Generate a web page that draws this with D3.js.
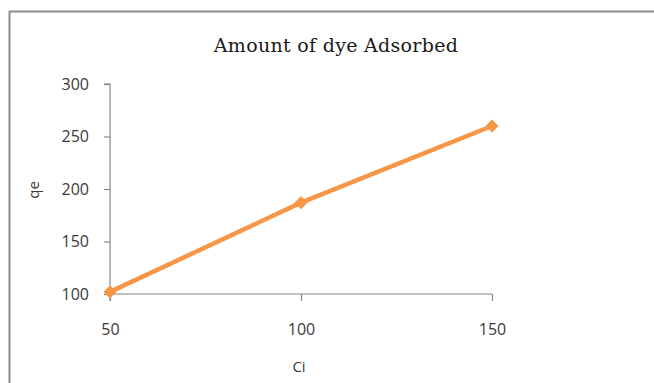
<!DOCTYPE html>
<html>
<head>
<meta charset="utf-8">
<script src="https://cdn.jsdelivr.net/npm/d3@7"></script>
<style>
  html, body { margin: 0; padding: 0; background: #fff; }
  svg { display: block; }
</style>
</head>
<body>
<svg id="chart" width="654" height="383"></svg>
<script>
// Adsorption data: initial concentration vs amount adsorbed
const ci = [50, 100, 150];
const qe = [102, 187, 260];
const xTicks = [50, 100, 150];
const yTicks = [100, 150, 200, 250, 300];

const svg = d3.select("#chart");
const W = 654, H = 383;

// chart area frame
svg.append("rect")
  .attr("x", 9.5).attr("y", 11.5)
  .attr("width", W + 10).attr("height", H + 10)
  .attr("fill", "#fff")
  .attr("stroke", "#8c8c8c").attr("stroke-width", 2);

const x = d3.scaleLinear().domain([50, 150]).range([110, 492]);
const y = d3.scaleLinear().domain([100, 300]).range([294, 84]);

const axisColor = "#868686";
const labelColor = "#3a3a3a";
const sans = "'Open Sans', 'DejaVu Sans', sans-serif";
const labelSize = "16px";

// y axis
const yAxis = svg.append("g")
  .attr("transform", `translate(${x(50)},0)`)
  .call(d3.axisLeft(y).tickValues(yTicks).tickSize(6).tickPadding(15));
// x axis
const xAxis = svg.append("g")
  .attr("transform", `translate(0,${y(100)})`)
  .call(d3.axisBottom(x).tickValues(xTicks).tickSize(7).tickPadding(23));

[yAxis, xAxis].forEach(g => {
  g.attr("font-size", null).attr("font-family", null);
  g.select(".domain").attr("stroke", axisColor).attr("stroke-width", 1.2);
  g.selectAll(".tick line").attr("stroke", axisColor).attr("stroke-width", 1.2);
  g.selectAll(".tick text")
    .attr("fill", labelColor)
    .style("font-family", sans)
    .style("font-size", labelSize);
});
// only the top outer tick is drawn on the value axis
yAxis.select(".domain").attr("d", `M-6,${y(300)}H0V${y(100)}`);
xAxis.select(".domain").attr("d", `M${x(50)},0H${x(150)}`);
// the y axis line continues down to meet the 50 tick
svg.append("line")
  .attr("x1", x(50)).attr("x2", x(50))
  .attr("y1", y(100)).attr("y2", y(100) + 7)
  .attr("stroke", axisColor).attr("stroke-width", 1.2);

// title
svg.append("text")
  .attr("x", 336).attr("y", 52)
  .attr("text-anchor", "middle")
  .attr("fill", "#1a1a1a")
  .style("font-family", "'DejaVu Serif', 'Liberation Serif', serif")
  .style("font-size", "19px")
  .style("letter-spacing", "0.3px")
  .text("Amount of dye Adsorbed");

// axis titles
svg.append("text")
  .attr("transform", "translate(39,190) rotate(-90)")
  .attr("text-anchor", "middle")
  .attr("fill", labelColor)
  .style("font-family", sans)
  .style("font-size", "15px")
  .text("qe");

svg.append("text")
  .attr("x", 299).attr("y", 372)
  .attr("text-anchor", "middle")
  .attr("fill", labelColor)
  .style("font-family", sans)
  .style("font-size", "15px")
  .text("Ci");

// series
const pts = ci.map((c, i) => [c, qe[i]]);
const color = "#F79646";

svg.append("path")
  .datum(pts)
  .attr("fill", "none")
  .attr("stroke", color)
  .attr("stroke-width", 4.5)
  .attr("stroke-linejoin", "round")
  .attr("d", d3.line().x(d => x(d[0])).y(d => y(d[1])));

svg.selectAll(".marker")
  .data(pts)
  .join("path")
  .attr("class", "marker")
  .attr("transform", d => `translate(${x(d[0])},${y(d[1])})`)
  .attr("d", d3.symbol(d3.symbolDiamond2, 110)())
  .attr("fill", color);
</script>
</body>
</html>
